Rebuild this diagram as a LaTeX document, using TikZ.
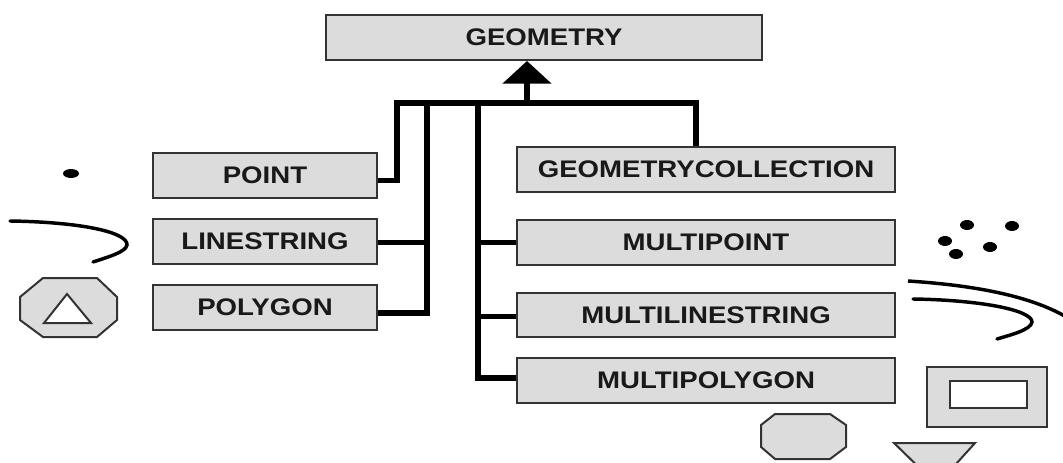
\documentclass[tikz,border=0pt]{standalone}
\usepackage{fontspec}
\newfontfamily\boxfont{Liberation Sans}[FakeStretch=1.15]
\usepackage{tikz}
\usetikzlibrary{arrows.meta}
\definecolor{boxgray}{HTML}{DCDCDC}
\definecolor{edgegray}{HTML}{333333}

\begin{document}
\begin{tikzpicture}[x=0.75pt,y=-0.75pt,
                    typebox/.style={draw=edgegray,line width=1.5pt,fill=boxgray,inner sep=0pt,
                                    minimum height=33.75pt,font=\boxfont\bfseries\fontsize{18}{20}\selectfont,text=black!90},
                    bus/.style={line width=4pt,line cap=butt},
                    icon/.style={draw=edgegray,line width=1.5pt,fill=boxgray},
                    stroke/.style={line width=2.6pt,line cap=round}]
                    \useasboundingbox (0,0) rectangle (1063,463);
                    % the type boxes
                    \node[typebox,minimum width=327pt] (geom) at (544,37.5) {GEOMETRY};
                    \node[typebox,minimum width=168pt] (point) at (265,175.5) {POINT};
                    \node[typebox,minimum width=168pt] (line) at (265,241.5) {LINESTRING};
                    \node[typebox,minimum width=168pt] (poly) at (265,307.5) {POLYGON};
                    \node[typebox,minimum width=283.5pt] (gc) at (706,169.5) {GEOMETRYCOLLECTION};
                    \node[typebox,minimum width=283.5pt] (mpoint) at (706,242.5) {MULTIPOINT};
                    \node[typebox,minimum width=283.5pt,minimum height=33pt] (mline) at (706,315) {MULTILINESTRING};
                    \node[typebox,minimum width=283.5pt] (mpoly) at (706,380.5) {MULTIPOLYGON};
                    % the bus
                    \coordinate (hub) at (527,103);
                    \coordinate (jl) at (397,103);
                    \coordinate (ja) at (427,103);
                    \coordinate (jb) at (478,103);
                    \coordinate (jr) at (696,103);
                    \draw[bus] ([yshift=-4pt]point.east) -| (jl) -- (jr) -- (jr |- gc.north);
                    \draw[bus] ([yshift=-1pt]line.east) -- ([yshift=-1pt]line.east -| ja);
                    \draw[bus] (ja) |- ([yshift=-4pt]poly.east);
                    \draw[bus] (jb) |- ([yshift=2pt]mpoly.west);
                    \draw[bus] (mpoint.west) -- (mpoint.west -| jb);
                    \draw[bus] ([yshift=-1pt]mline.west) -- ([yshift=-1pt]mline.west -| jb);
                    \draw[bus,-{Triangle[width=36pt,length=17pt]}] (hub) -- (hub |- geom.south);
                    % left icons
                    \fill (71,173.5) ellipse [x radius=8,y radius=4.5];
                    \draw[stroke] (10,221) .. controls (80,222) and (128,232) .. (127,245)
                                  .. controls (126,252) and (108,257) .. (93,262);
                    \draw[icon] (43,278) -- (97,278) -- (117,297) -- (117,320) -- (97,337)
                                -- (43,337) -- (20,320) -- (20,297) -- cycle;
                    \draw[icon,fill=white] (67,294) -- (91,323) -- (44,323) -- cycle;
                    % right icons
                    \foreach \px/\py in {967/225,1012/226,945/241,990/247,956/254}
                        \fill (\px,\py) ellipse [x radius=7,y radius=5];
                    \begin{scope}
                        \clip (0,0) rectangle (1063,463);
                        \draw[stroke,line cap=butt] (908,281) .. controls (970,285) and (1030,295) .. (1068,318);
                        \draw[stroke] (913,299) .. controls (980,300) and (1032,310) .. (1032,322)
                                      .. controls (1031,330) and (1010,335) .. (997,339);
                        \draw[icon] (927,367) rectangle (1047,427);
                        \draw[icon,fill=white] (950,381) rectangle (1027,408);
                        \draw[icon] (775,414) -- (830,414) -- (846,425) -- (846,447) -- (830,459)
                                    -- (775,459) -- (761,447) -- (761,425) -- cycle;
                        \draw[icon] (894,443) -- (975,443) -- (937,485) -- cycle;
                    \end{scope}
                \end{tikzpicture}
\end{document}
